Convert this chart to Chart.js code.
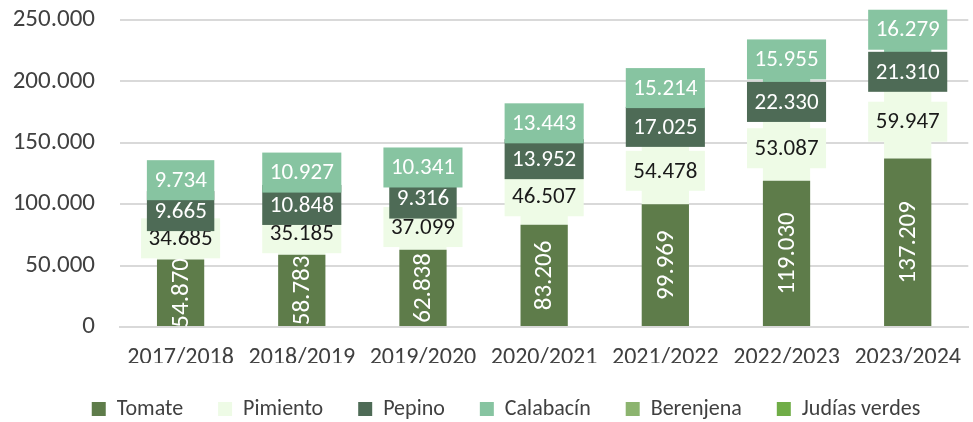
<!DOCTYPE html>
<html lang="es">
<head>
<meta charset="utf-8">
<title>Producción hortícola</title>
<script src="https://cdn.jsdelivr.net/npm/chart.js@4"></script>
<style>
  html, body { margin: 0; padding: 0; background: #fff; overflow: hidden; }
  #wrap { width: 978px; height: 422px; }
</style>
</head>
<body>
<div id="wrap"><canvas id="chart" width="978" height="422"></canvas></div>
<script>
'use strict';

// ── Data ──────────────────────────────────────────────────────────────────────
const campaigns    = ['2017/2018', '2018/2019', '2019/2020', '2020/2021', '2021/2022', '2022/2023', '2023/2024'];
const tomate       = [54870, 58783, 62838, 83206, 99969, 119030, 137209];
const pimiento     = [34685, 35185, 37099, 46507, 54478, 53087, 59947];
const pepino       = [9665, 10848, 9316, 13952, 17025, 22330, 21310];
const calabacin    = [9734, 10927, 10341, 13443, 15214, 15955, 16279];
const berenjena    = [0, 0, 0, 0, 0, 0, 0];
const judiasVerdes = [0, 0, 0, 0, 0, 0, 0];
const yTicks       = [0, 50000, 100000, 150000, 200000, 250000];

const FONT = 'Carlito, Calibri, Lato, sans-serif';
const fmt = n => String(Math.round(n)).replace(/\B(?=(\d{3})+(?!\d))/g, '.');

// ── Data labels: Excel-style filled boxes, Tomate rotated inside the bar ─────
const boxLabels = {
  id: 'boxLabels',
  afterDatasetsDraw(chart) {
    const { ctx, chartArea } = chart;
    chart.data.datasets.forEach((ds, di) => {
      const meta = chart.getDatasetMeta(di);
      if (meta.hidden || !ds.showLabels) return;
      meta.data.forEach((bar, i) => {
        const v = ds.data[i];
        if (!v) return;
        const txt = fmt(v);
        const cx = bar.x;
        const cy = (bar.y + bar.base) / 2 + (ds.labelShift || 0);
        ctx.save();
        ctx.textAlign = 'center';
        ctx.textBaseline = 'middle';
        if (ds.rotateLabel) {
          // clipped at the axis line like the original
          ctx.beginPath();
          ctx.rect(chartArea.left, chartArea.top - 40, chartArea.width, chartArea.bottom - chartArea.top + 40);
          ctx.clip();
          ctx.translate(cx, cy);
          ctx.rotate(-Math.PI / 2);
          ctx.font = `25px ${FONT}`;
          ctx.fillStyle = ds.labelColor;
          ctx.fillText(txt, 0, 1);
        } else {
          ctx.font = `23px ${FONT}`;
          const w = ctx.measureText(txt).width + 15;
          const h = 40;
          ctx.fillStyle = ds.backgroundColor;
          ctx.fillRect(cx - w / 2, cy - h / 2, w, h);
          ctx.fillStyle = ds.labelColor;
          ctx.fillText(txt, cx, cy + 1);
        }
        ctx.restore();
      });
    });
  }
};

// legend in the original sits a little right of the canvas centre
const legendNudge = {
  id: 'legendNudge',
  afterLayout(chart) {
    if (!chart.legend) return;
    chart.legend.left += 11;
    chart.legend.right += 11;
  }
};

// ── Chart ─────────────────────────────────────────────────────────────────────
const shared = { borderWidth: 0, barPercentage: 0.39, categoryPercentage: 1 };
const legendPad = 35;

new Chart(document.getElementById('chart'), {
  type: 'bar',
  data: {
    labels: campaigns,
    datasets: [
      { ...shared, label: 'Tomate',        data: tomate,       backgroundColor: '#5e7c4a', labelColor: '#ffffff', showLabels: true, rotateLabel: true },
      { ...shared, label: 'Pimiento',      data: pimiento,     backgroundColor: '#eefbe6', labelColor: '#1a1a1a', showLabels: true },
      { ...shared, label: 'Pepino',        data: pepino,       backgroundColor: '#4e6b56', labelColor: '#ffffff', showLabels: true },
      { ...shared, label: 'Calabacín',     data: calabacin,    backgroundColor: '#87c4a1', labelColor: '#ffffff', showLabels: true, labelShift: -19 },
      { ...shared, label: 'Berenjena',     data: berenjena,    backgroundColor: '#8cb46f', labelColor: '#ffffff', showLabels: false },
      { ...shared, label: 'Judías verdes', data: judiasVerdes, backgroundColor: '#70ad47', labelColor: '#ffffff', showLabels: false }
    ]
  },
  options: {
    responsive: false,
    maintainAspectRatio: false,
    animation: false,
    layout: { padding: { left: 12, right: 0, top: 0, bottom: 0 } },
    plugins: {
      tooltip: { enabled: false },
      legend: {
        position: 'bottom',
        maxHeight: legendPad + 24,
        labels: {
          color: '#404040',
          font: { family: FONT, size: 22 },
          boxWidth: 14,
          boxHeight: 14,
          padding: legendPad
        }
      }
    },
    scales: {
      x: {
        stacked: true,
        grid: { display: false, drawTicks: false },
        border: { color: '#d9d9d9', width: 2 },
        ticks: { color: '#404040', font: { family: FONT, size: 24 }, padding: 17, maxRotation: 0 },
        afterFit: axis => { axis.height = 36; }
      },
      y: {
        stacked: true,
        min: yTicks[0],
        max: yTicks[yTicks.length - 1],
        afterBuildTicks: axis => { axis.ticks = yTicks.map(value => ({ value })); },
        afterFit: axis => { axis.width = 108; axis.paddingTop = 20; axis.paddingBottom = 0; },
        border: { display: false },
        grid: { color: '#d9d9d9', lineWidth: 2, drawTicks: false },
        ticks: { color: '#404040', font: { family: FONT, size: 25 }, padding: 25, callback: v => fmt(v) }
      }
    }
  },
  plugins: [boxLabels, legendNudge]
});
</script>
</body>
</html>
